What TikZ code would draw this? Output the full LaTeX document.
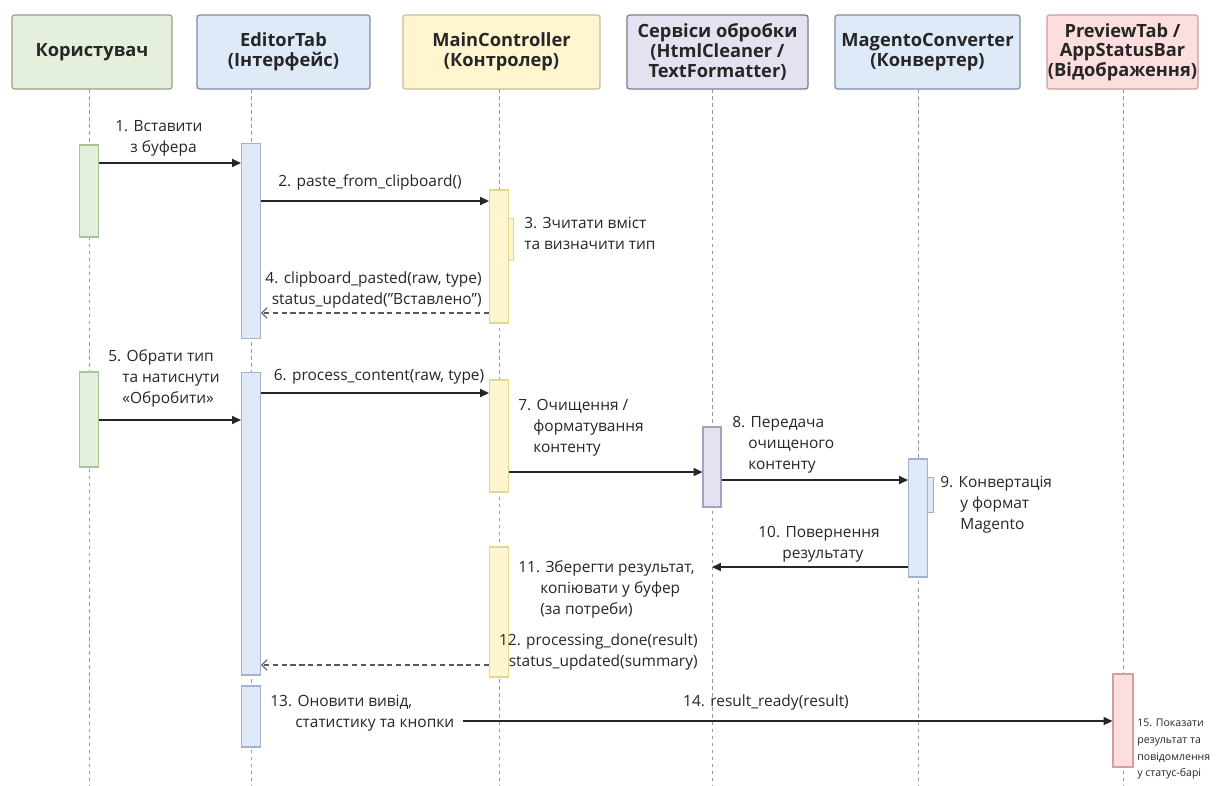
\documentclass[tikz,border=0pt]{standalone}
\usepackage{fontspec}
\setmainfont{Open Sans}
\usetikzlibrary{arrows.meta}
% participant colours
\definecolor{usrfill}{HTML}{E5F0DC}
\definecolor{usrdraw}{HTML}{94A387}
\definecolor{usract}{HTML}{A9C299}
\definecolor{bluefill}{HTML}{DFEAF8}
\definecolor{bluedraw}{HTML}{7F8DA6}
\definecolor{blueact}{HTML}{9FB3D1}
\definecolor{yelfill}{HTML}{FFF5CF}
\definecolor{yeldraw}{HTML}{C7BE93}
\definecolor{yelact}{HTML}{E3D68E}
\definecolor{purfill}{HTML}{E4E2F0}
\definecolor{purdraw}{HTML}{7D7A92}
\definecolor{puract}{HTML}{A99FC0}
\definecolor{redfill}{HTML}{FBDEDD}
\definecolor{reddraw}{HTML}{CF9C9A}
\definecolor{redact}{HTML}{D89C9C}
\begin{document}
\begin{tikzpicture}[x=0.02cm, y=-0.02cm,
  hdr/.style={draw, rounded corners=1.5pt, line width=0.7pt, align=center, inner sep=0pt,
    minimum height=1.48cm, font=\bfseries\fontsize{10.4}{11.2}\selectfont, text=black!85},
  act/.style={draw, line width=0.6pt, minimum width=0.38cm, inner sep=0pt},
  bump/.style={draw, line width=0.5pt, inner sep=0pt},
  life/.style={draw=black!40, line width=0.5pt, dash pattern=on 2pt off 2pt},
  msg/.style={draw=black!85, line width=0.9pt, -{Triangle[length=5pt,width=4.5pt]}},
  ret/.style={draw=black!65, line width=0.6pt, dash pattern=on 3pt off 2pt,
    -{Straight Barb[length=3pt,width=6pt]}},
  lbl/.style={inner sep=0pt, align=left, font=\fontsize{8.8}{12}\selectfont, text=black!85},
  small/.style={inner sep=0pt, align=left, font=\fontsize{6}{9.5}\selectfont, text=black!85},
]
\useasboundingbox (0,0) rectangle (1216,785);
\fill[white] (0,0) rectangle (1216,785);

% participants
\node[hdr, fill=usrfill, draw=usrdraw, minimum width=3.2cm] (hU) at (92,52) {Користувач};
\node[hdr, fill=bluefill, draw=bluedraw, minimum width=3.46cm] (hE) at (283.5,52) {EditorTab\\(Інтерфейс)};
\node[hdr, fill=yelfill, draw=yeldraw, minimum width=3.94cm] (hM) at (501.5,52) {MainController\\(Контролер)};
\node[hdr, fill=purfill, draw=purdraw, minimum width=3.62cm] (hS) at (717.5,52) {Сервіси обробки\\(HtmlCleaner /\\TextFormatter)};
\node[hdr, fill=bluefill, draw=bluedraw, minimum width=3.7cm] (hG) at (927.5,52) {MagentoConverter\\(Конвертер)};
\node[hdr, fill=redfill, draw=reddraw, minimum width=3.02cm] (hP) at (1122.5,52) {PreviewTab /\\AppStatusBar\\(Відображення)};

% lifelines
\coordinate (lU) at (89,89);
\coordinate (lE) at (251,89);
\coordinate (lM) at (499,89);
\coordinate (lS) at (712,89);
\coordinate (lG) at (918,89);
\coordinate (lP) at (1123,89);
\foreach \l in {lU,lE,lM,lS,lG,lP} \draw[life] (\l) -- (\l |- 0,785);

% activations
\node[act, fill=usrfill, draw=usract, minimum height=1.84cm] (u1) at (89,191) {};
\node[act, fill=usrfill, draw=usract, minimum height=1.9cm] (u2) at (89,419.5) {};
\node[act, fill=bluefill, draw=blueact, minimum height=3.9cm] (e1) at (251,241) {};
\node[act, fill=bluefill, draw=blueact, minimum height=6.06cm] (e2) at (251,523.5) {};
\node[act, fill=bluefill, draw=blueact, minimum height=1.22cm] (e3) at (251,716.5) {};
\node[bump, fill=yelfill, draw=yelact, minimum width=0.16cm, minimum height=0.84cm] (m1b) at (509,239) {};
\node[act, fill=yelfill, draw=yelact, minimum height=2.66cm] (m1) at (499,256.5) {};
\node[act, fill=yelfill, draw=yelact, minimum height=2.24cm] (m2) at (499,436) {};
\node[act, fill=yelfill, draw=yelact, minimum height=2.6cm] (m3) at (499,612) {};
\node[act, fill=purfill, draw=puract, minimum width=0.36cm, minimum height=1.6cm] (s1) at (712,467) {};
\node[bump, fill=bluefill, draw=blueact, minimum width=0.2cm, minimum height=0.7cm] (g1b) at (928,494.5) {};
\node[act, fill=bluefill, draw=blueact, minimum height=2.36cm] (g1) at (918,518) {};
\node[act, fill=redfill, draw=redact, minimum width=0.4cm, minimum height=1.86cm] (p1) at (1123,720.5) {};

% messages
\draw[msg] (u1.east |- 0,163) -- (e1.west |- 0,163);
\node[lbl, anchor=north west] (t1) at (115,120) {1. Вставити\\\hspace*{0.3cm}з буфера};

\draw[msg] (e1.east |- 0,201) -- (m1.west |- 0,201);
\node[lbl, anchor=center] (t2) at (370,182) {2. paste\_from\_clipboard()};

\node[lbl, anchor=north west] (t3) at (524,217) {3. Зчитати вміст\\та визначити тип};

\draw[ret] (m1.west |- 0,313) -- (e1.east |- 0,313);
\node[lbl, anchor=north east, align=right] (t4) at (482,271) {4. clipboard\_pasted(raw, type)\\status\_updated("Вставлено")};

\draw[msg] (u2.east |- 0,420) -- (e2.west |- 0,420);
\node[lbl, anchor=north west] (t5) at (108,349) {5. Обрати тип\\\hspace*{0.28cm}та натиснути\\\hspace*{0.28cm}«Обробити»};

\draw[msg] (e2.east |- 0,393) -- (m2.west |- 0,393);
\node[lbl, anchor=center] (t6) at (379,377) {6. process\_content(raw, type)};

\node[lbl, anchor=north west] (t7) at (518,399) {7. Очищення /\\\hspace*{0.3cm}форматування\\\hspace*{0.3cm}контенту};
\draw[msg] (m2.east |- 0,472) -- (s1.west |- 0,472);

\node[lbl, anchor=north west] (t8) at (732,416) {8. Передача\\\hspace*{0.32cm}очищеного\\\hspace*{0.32cm}контенту};
\draw[msg] (s1.east |- 0,480) -- (g1.west |- 0,480);

\node[lbl, anchor=north west] (t9) at (940,476) {9. Конвертація\\\hspace*{0.4cm}у формат\\\hspace*{0.4cm}Magento};

\draw[msg] (g1.west |- 0,567) -- (lS |- 0,567);
\node[lbl, anchor=north west] (t10) at (758,526) {10. Повернення\\\hspace*{0.48cm}результату};

\node[lbl, anchor=north west] (t11) at (518,560) {11. Зберегти результат,\\\hspace*{0.44cm}копіювати у буфер\\\hspace*{0.44cm}(за потреби)};

\draw[ret] (m3.west |- 0,665) -- (e2.east |- 0,665);
\node[lbl, anchor=north east, align=right] (t12) at (698,633) {12. processing\_done(result)\\status\_updated(summary)};

\node[lbl, anchor=north west] (t13) at (270,695) {13. Оновити вивід,\\\hspace*{0.5cm}статистику та кнопки};
\coordinate (s14) at (463,721);
\draw[msg] (s14) -- (p1.west |- s14);
\node[lbl, anchor=center] (t14) at (766,702) {14. result\_ready(result)};

\node[small, anchor=north west] (t15) at (1137,719) {15. Показати\\результат та\\повідомлення\\у статус-барі};
\end{tikzpicture}
\end{document}
